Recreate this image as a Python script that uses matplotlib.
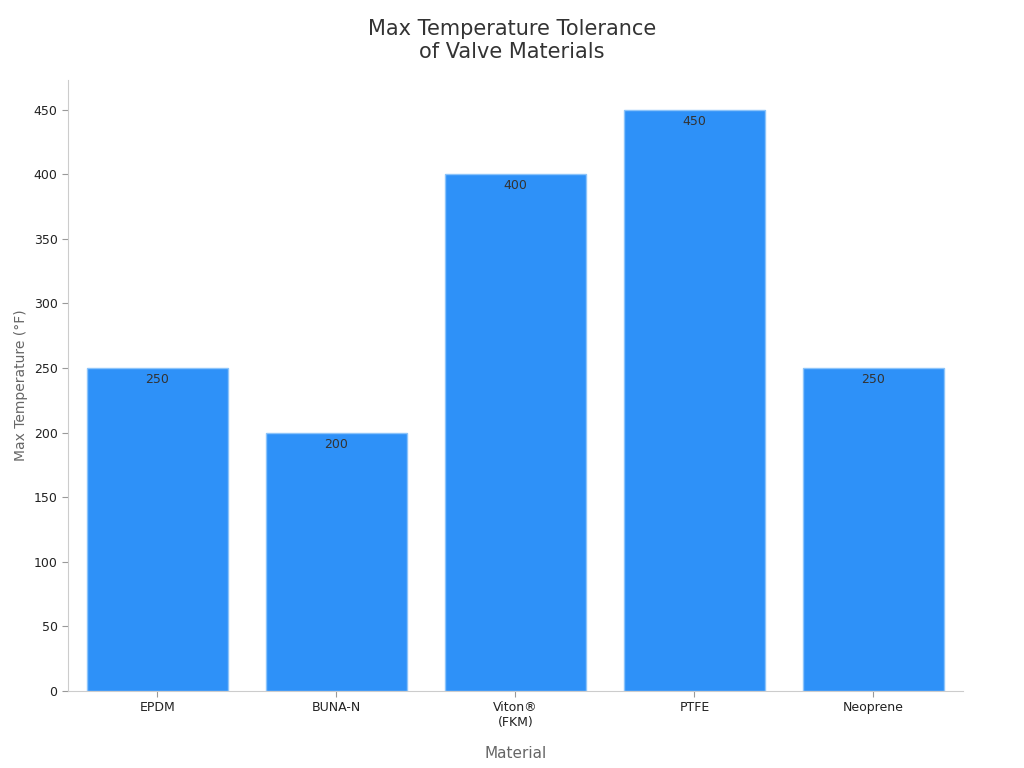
import matplotlib
matplotlib.use("Agg")
import matplotlib.pyplot as plt

categories = ["EPDM", "BUNA-N", "Viton®\n(FKM)", "PTFE", "Neoprene"]
values = [250, 200, 400, 450, 250]

fig = plt.figure(figsize=(10.24, 7.68), dpi=100)
ax = fig.add_axes([0.0664, 0.1003, 0.874, 0.7955])
bars = ax.bar(range(len(categories)), values, width=0.79, color="#2E91F8",
              edgecolor="#8CC4FA", linewidth=1)
for i, v in enumerate(values):
    ax.text(i, v - 4, str(v), ha="center", va="top", fontsize=9, color="#333333")
ax.set_xlim(-0.5, 4.5)
ax.set_ylim(0, 473)
ax.set_yticks(range(0, 451, 50))
ax.set_xticks(range(len(categories)))
ax.set_xticklabels(categories, fontsize=9, color="#222222")
ax.tick_params(axis="y", labelsize=9, colors="#222222")
ax.tick_params(color="#999999", length=4)
for s in ["top", "right"]:
    ax.spines[s].set_visible(False)
for s in ["left", "bottom"]:
    ax.spines[s].set_color("#cccccc")
ax.set_xlabel("Material", fontsize=11, color="#666666", labelpad=12)
ax.set_ylabel("Max Temperature (°F)", fontsize=10, color="#666666")
fig.suptitle("Max Temperature Tolerance\nof Valve Materials", fontsize=15, color="#333333", y=0.975)
fig.savefig("out.png")
